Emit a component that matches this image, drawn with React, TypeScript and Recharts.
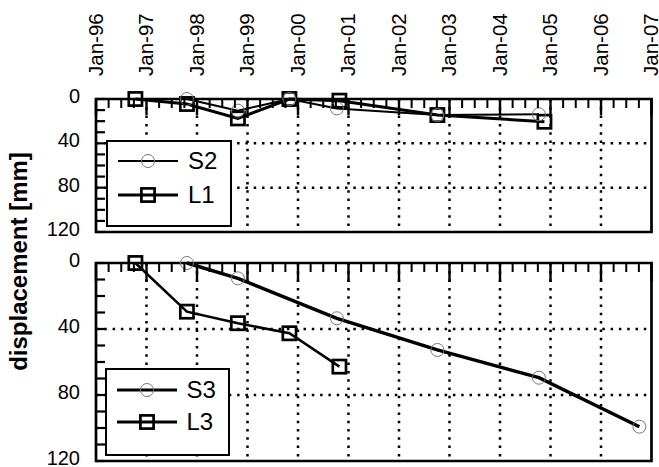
import React from "react";
import { LineChart, Line, XAxis, YAxis, ReferenceLine, ReferenceArea, Legend } from "recharts";

const FONT = "'Liberation Sans', Arial, Helvetica, sans-serif";

// ---- axis definitions ----
const yearTicks = [1996, 1997, 1998, 1999, 2000, 2001, 2002, 2003, 2004, 2005, 2006, 2007];
const yearLabels = ["Jan-96", "Jan-97", "Jan-98", "Jan-99", "Jan-00", "Jan-01", "Jan-02", "Jan-03", "Jan-04", "Jan-05", "Jan-06", "Jan-07"];
const gridYears = [1997, 1998, 1999, 2000, 2001, 2002, 2003, 2004, 2005, 2006];
const yMinorTicks = [0, 10, 20, 30, 40, 50, 60, 70, 80, 90, 100, 110, 120];
const yLabelTicks = [0, 40, 80, 120];
const yGrid = [40, 80];

// ---- data (decimal years, displacement in mm) ----
const l1Dates = [1996.78, 1997.8, 1998.81, 1999.83, 2000.82, 2002.76, 2004.88];
const l1Values = [0, 4.5, 17.5, 0, 1.5, 14.5, 20.5];
const s2Dates = [1997.8, 1998.81, 1999.83, 2000.77, 2002.76, 2004.77];
const s2Values = [0, 10.5, 0, 8.5, 14.5, 13.8];
const l3Dates = [1996.78, 1997.8, 1998.81, 1999.83, 2000.82];
const l3Values = [0, 29.5, 36.5, 42.6, 62.8];
const s3Dates = [1997.8, 1998.81, 2000.77, 2002.76, 2004.77, 2006.76];
const s3Values = [0, 9.3, 33.5, 52.7, 69.5, 99.2];

type Pt = { t: number; v: number };
const zip = (ts: number[], vs: number[]): Pt[] => ts.map((t, i) => ({ t, v: vs[i] }));

// quarterly minor ticks from the year ticks
const quarterTicks: number[] = [];
yearTicks.forEach((y, i) => {
  quarterTicks.push(y);
  if (i < yearTicks.length - 1) quarterTicks.push(y + 0.25, y + 0.5, y + 0.75);
});

type Series = { name: string; data: Pt[]; width: number; legendWidth: number; marker: "circle" | "square" };

const topSeries: Series[] = [
  { name: "L1", data: zip(l1Dates, l1Values), width: 3, legendWidth: 3, marker: "square" },
  { name: "S2", data: zip(s2Dates, s2Values), width: 2, legendWidth: 2, marker: "circle" },
];
const bottomSeries: Series[] = [
  { name: "L3", data: zip(l3Dates, l3Values), width: 2.5, legendWidth: 3, marker: "square" },
  { name: "S3", data: zip(s3Dates, s3Values), width: 3.4, legendWidth: 3, marker: "circle" },
];
const topLegendOrder = ["S2", "L1"];
const bottomLegendOrder = ["S3", "L3"];

const Marker = ({ kind, cx, cy }: { kind: string; cx: number; cy: number }) =>
  kind === "circle" ? (
    <circle cx={cx} cy={cy} r={6.5} fill="none" stroke="#777" strokeWidth={1} />
  ) : (
    <rect x={cx - 6.6} y={cy - 6.6} width={13.2} height={13.2} fill="none" stroke="#000" strokeWidth={2.7} />
  );

const makeDot = (kind: string) => (props: any) => {
  const { cx, cy, index } = props;
  if (cx == null || cy == null) return <g key={`e${index}`} />;
  return (
    <g key={`${kind}${index}`}>
      <Marker kind={kind} cx={cx} cy={cy} />
    </g>
  );
};

const makeXTick = (showLabels: boolean, majorLen: number, minorLen: number) => (props: any) => {
  const { x, y, payload } = props;
  const v = payload.value as number;
  const idx = yearTicks.indexOf(v);
  const major = idx >= 0;
  return (
    <g>
      <line x1={x} x2={x} y1={y} y2={y + (major ? majorLen : minorLen)} stroke="#000" strokeWidth={major ? 2.4 : 2} />
      {showLabels && major ? (
        <text
          x={0}
          y={0}
          transform={`translate(${x + 6.5},${y - 23}) rotate(-90)`}
          textAnchor="start"
          fontFamily={FONT}
          fontSize={20.5}
          fill="#000"
        >
          {yearLabels[idx]}
        </text>
      ) : null}
    </g>
  );
};

const makeYTick = (len: number) => (props: any) => {
  const { x, y, payload } = props;
  const v = payload.value as number;
  const showLabel = yLabelTicks.indexOf(v) >= 0;
  return (
    <g>
      <line x1={x} x2={x + len} y1={y} y2={y} stroke="#000" strokeWidth={2.2} />
      {showLabel ? (
        <text x={x - 16} y={y + 4} textAnchor="end" fontFamily={FONT} fontSize={20} fill="#000">
          {v}
        </text>
      ) : null}
    </g>
  );
};

type LegendGeom = { rowTop: number; rowGap: number; lineLeft: number };

const makeLegend = (series: Series[], order: string[], g: LegendGeom) => () => (
  <div
    style={{
      width: "100%",
      height: "100%",
      boxSizing: "border-box",
      border: "2px solid #000",
      background: "#fff",
      position: "relative",
    }}
  >
    {order.map((name, i) => {
      const s = series.find((q) => q.name === name)!;
      return (
        <div
          key={name}
          style={{
            position: "absolute",
            left: g.lineLeft,
            top: g.rowTop + i * g.rowGap - 12,
            height: 24,
            display: "flex",
            alignItems: "center",
          }}
        >
          <svg width={60} height={24} style={{ display: "block", overflow: "visible" }}>
            <line x1={0} x2={60} y1={12} y2={12} stroke="#000" strokeWidth={s.legendWidth} />
            <Marker kind={s.marker} cx={30} cy={12} />
          </svg>
          <span style={{ marginLeft: 10, fontFamily: FONT, fontSize: 24, lineHeight: "24px", color: "#000" }}>{name}</span>
        </div>
      );
    })}
  </div>
);

type PanelProps = {
  height: number;
  margin: { top: number; right: number; bottom: number; left: number };
  series: Series[];
  legendOrder: string[];
  legendPos: { left: number; top: number; width: number; height: number };
  legendGeom: LegendGeom;
  showLabels: boolean;
  majorLen: number;
};

const dotted = { stroke: "#000", strokeWidth: 2.5, strokeDasharray: "2.5 5.8" };

function Panel(p: PanelProps) {
  return (
    <LineChart width={659} height={p.height} margin={p.margin} style={{ overflow: "visible" }}>
      <XAxis
        type="number"
        dataKey="t"
        domain={[1996, 2007]}
        ticks={quarterTicks}
        interval={0}
        orientation="top"
        height={1}
        tickSize={0}
        tickMargin={0}
        axisLine={false}
        tickLine={false}
        tick={makeXTick(p.showLabels, p.majorLen, 9)}
      />
      <YAxis
        type="number"
        domain={[0, 120]}
        reversed
        ticks={yMinorTicks}
        interval={0}
        width={1}
        tickSize={0}
        tickMargin={0}
        axisLine={false}
        tickLine={false}
        tick={makeYTick(9)}
      />
      {gridYears.map((gy) => (
        <ReferenceLine key={`gx${gy}`} x={gy} {...dotted} />
      ))}
      {yGrid.map((gv) => (
        <ReferenceLine key={`gy${gv}`} y={gv} {...dotted} />
      ))}
      <ReferenceArea x1={1996} x2={2007} y1={0} y2={120} fill="none" fillOpacity={0} stroke="#000" strokeWidth={2.7} />
      {p.series.map((s) => (
        <Line
          key={s.name}
          name={s.name}
          data={s.data}
          dataKey="v"
          type="linear"
          stroke="#000"
          strokeWidth={s.width}
          dot={makeDot(s.marker)}
          activeDot={false}
          isAnimationActive={false}
        />
      ))}
      <Legend
        layout="vertical"
        align="center"
        verticalAlign="middle"
        width={p.legendPos.width}
        height={p.legendPos.height}
        wrapperStyle={{
          position: "absolute",
          left: p.legendPos.left,
          top: p.legendPos.top,
          width: p.legendPos.width,
          height: p.legendPos.height,
        }}
        content={makeLegend(p.series, p.legendOrder, p.legendGeom)}
      />
    </LineChart>
  );
}

export default function App() {
  return (
    <div style={{ position: "absolute", left: 0, top: 0, width: 659, height: 467, background: "#fff", overflow: "hidden" }}>
      <div style={{ position: "absolute", left: 0, top: 0 }}>
        <Panel
          height={240}
          margin={{ top: 98, right: 7.5, bottom: 8, left: 95 }}
          series={topSeries}
          legendOrder={topLegendOrder}
          legendPos={{ left: 106, top: 140, width: 126, height: 87 }}
          legendGeom={{ rowTop: 19, rowGap: 34, lineLeft: 10 }}
          showLabels={true}
          majorLen={16}
        />
      </div>
      <div style={{ position: "absolute", left: 0, top: 240 }}>
        <Panel
          height={227}
          margin={{ top: 22, right: 7.5, bottom: 6, left: 95 }}
          series={bottomSeries}
          legendOrder={bottomLegendOrder}
          legendPos={{ left: 105, top: 128, width: 125, height: 88 }}
          legendGeom={{ rowTop: 20, rowGap: 31.5, lineLeft: 9.5 }}
          showLabels={false}
          majorLen={19}
        />
      </div>
      <svg width={50} height={467} style={{ position: "absolute", left: 0, top: 0 }}>
        <text
          x={0}
          y={0}
          transform="translate(27,261.5) rotate(-90)"
          textAnchor="middle"
          fontFamily={FONT}
          fontWeight="bold"
          fontSize={24}
          fill="#000"
        >
          displacement [mm]
        </text>
      </svg>
    </div>
  );
}
